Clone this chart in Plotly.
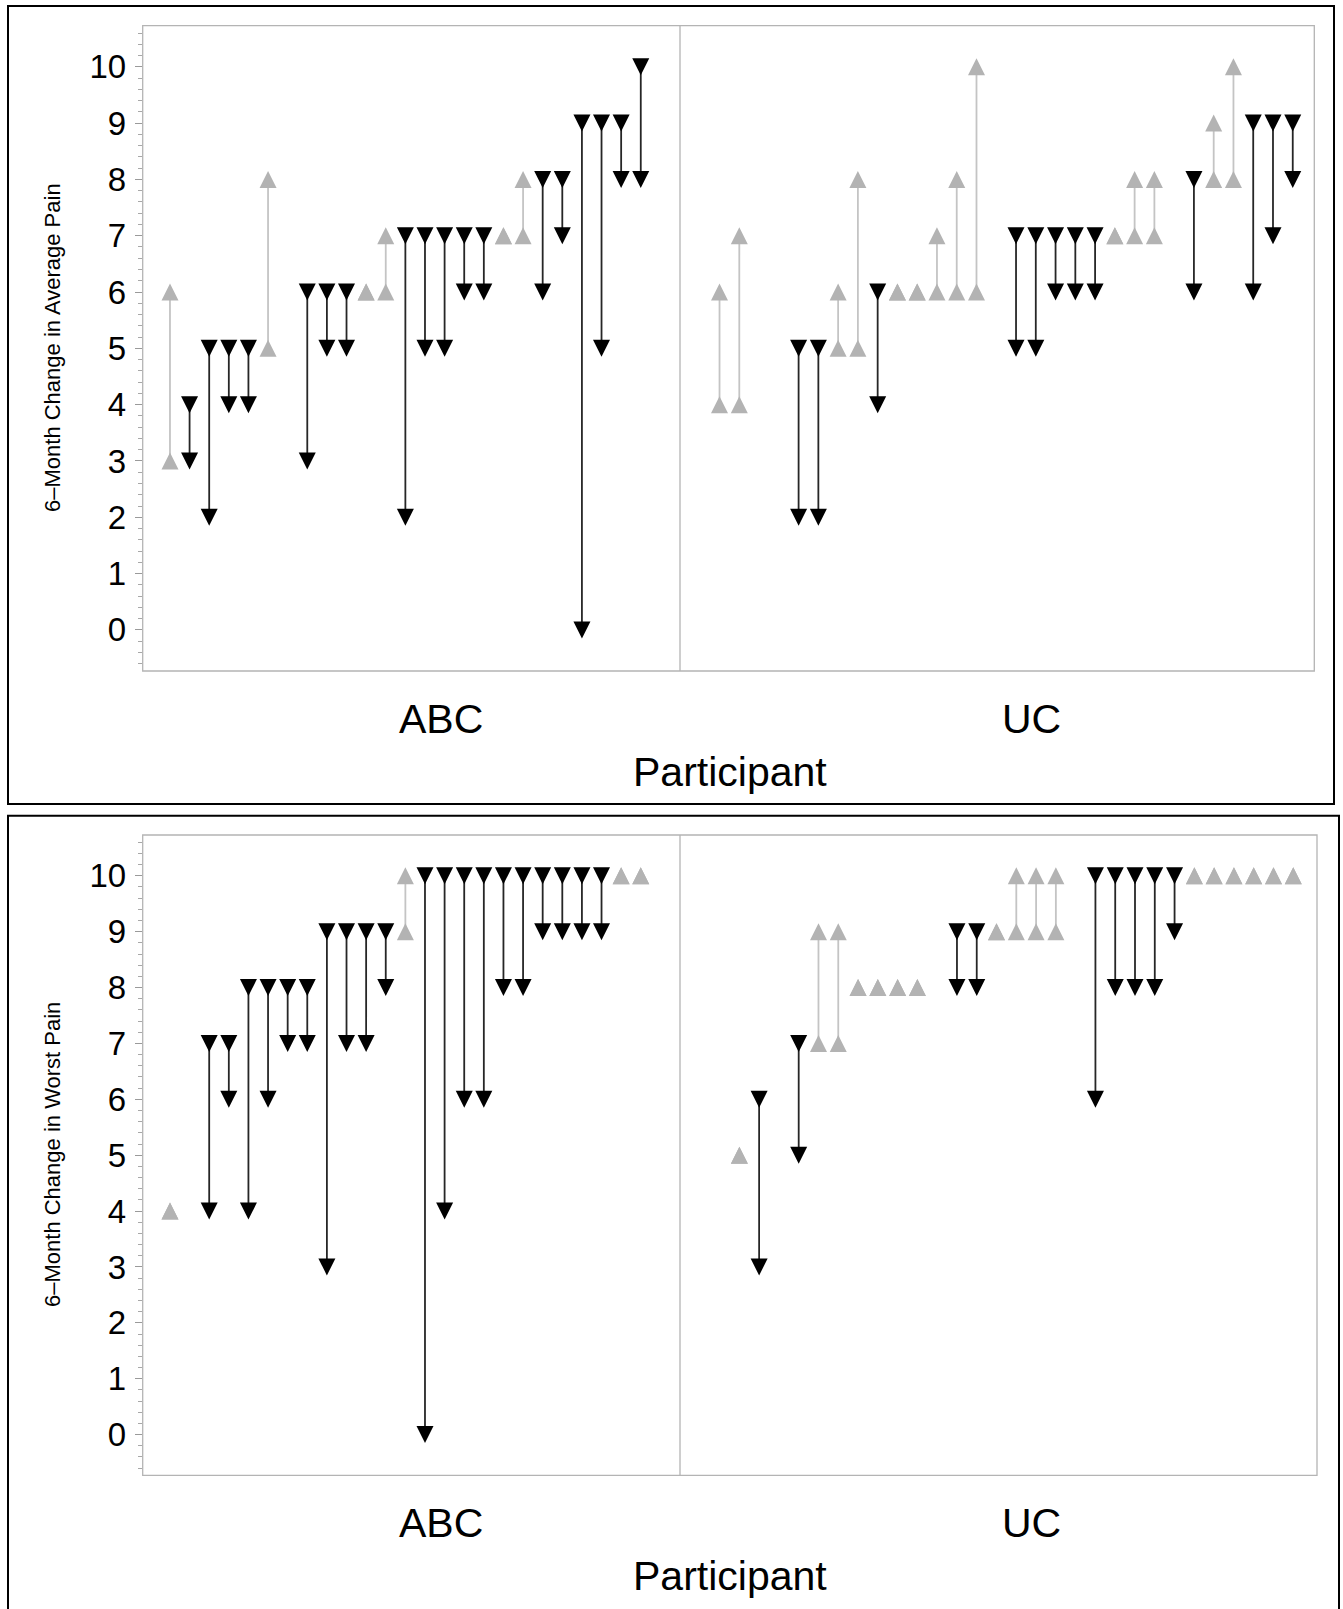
import plotly.graph_objects as go

W, H = 1343, 1609

# ---------------- data (slot order = participant order; None = no data) ----------------
group_labels = ["ABC", "UC"]
axis_label = "Participant"
y_titles = ["6–Month Change in Average Pain", "6–Month Change in Worst Pain"]
y_ticks = [0, 1, 2, 3, 4, 5, 6, 7, 8, 9, 10]

avg_abc_base = [3, 4, 5, 5, 5, 5, None, 6, 6, 6, 6, 6, 7, 7, 7, 7, 7, 7, 7, 8, 8, 9, 9, 9, 10]
avg_abc_6mo = [6, 3, 2, 4, 4, 8, None, 3, 5, 5, 6, 7, 2, 5, 5, 6, 6, 7, 8, 6, 7, 0, 5, 8, 8]

avg_uc_base = [4, 4, None, None, 5, 5, 5, 5, 6, 6, 6, 6, 6, 6, None, 7, 7, 7, 7, 7, 7, 7, 7, None, 8, 8, 8, 9, 9, 9]
avg_uc_6mo = [6, 7, None, None, 2, 2, 6, 8, 4, 6, 6, 7, 8, 10, None, 5, 5, 6, 6, 6, 7, 8, 8, None, 6, 9, 10, 6, 7, 8]

worst_abc_base = [4, None, 7, 7, 8, 8, 8, 8, 9, 9, 9, 9, 9, 10, 10, 10, 10, 10, 10, 10, 10, 10, 10, 10, 10]
worst_abc_6mo = [4, None, 4, 6, 4, 6, 7, 7, 3, 7, 7, 8, 10, 0, 4, 6, 6, 8, 8, 9, 9, 9, 9, 10, 10]

worst_uc_base = [None, 5, 6, None, 7, 7, 7, 8, 8, 8, 8, None, 9, 9, 9, 9, 9, 9, None, 10, 10, 10, 10, 10, 10, 10, 10, 10, 10, 10]
worst_uc_6mo = [None, 5, 3, None, 5, 9, 9, 8, 8, 8, 8, None, 8, 8, 9, 10, 10, 10, None, 6, 8, 8, 8, 9, 10, 10, 10, 10, 10, 10]

# ---------------- styles ----------------
FONT = "Liberation Sans, Arial, Helvetica, sans-serif"
BLACK = "#000000"
LINE_BLACK = "#262626"
GRAY = "#b3b3b3"
LINE_GRAY = "#c4c4c4"
FRAME = "#b4b4b4"
MS = 17


def pxx(x):
    return x / W


def pxy(y):
    return 1 - y / H


fig = go.Figure()


def add_group(base, follow, xa, ya):
    xs = list(range(len(base)))
    dlx, dly, ulx, uly = [], [], [], []
    dmx, dmy, umx, umy = [], [], [], []
    for x, b, f in zip(xs, base, follow):
        if b is None or f is None:
            continue
        if f < b:
            dlx += [x, x, None]
            dly += [b, f, None]
            dmx += [x, x]
            dmy += [b, f]
        else:
            if f > b:
                ulx += [x, x, None]
                uly += [b, f, None]
            umx += [x, x]
            umy += [b, f]
    common = dict(xaxis=xa, yaxis=ya, showlegend=False, hoverinfo="skip")
    fig.add_trace(go.Scatter(x=ulx, y=uly, mode="lines",
                             line=dict(color=LINE_GRAY, width=1.8), **common))
    fig.add_trace(go.Scatter(x=dlx, y=dly, mode="lines",
                             line=dict(color=LINE_BLACK, width=1.8), **common))
    fig.add_trace(go.Scatter(x=umx, y=umy, mode="markers",
                             marker=dict(symbol="arrow-down", angle=180, standoff=MS / 2,
                                         size=MS, color=GRAY, line=dict(width=0)), **common))
    fig.add_trace(go.Scatter(x=dmx, y=dmy, mode="markers",
                             marker=dict(symbol="arrow-down", angle=0, standoff=MS / 2,
                                         size=MS, color=BLACK, line=dict(width=0)), **common))


add_group(avg_abc_base, avg_abc_6mo, "x", "y")
add_group(avg_uc_base, avg_uc_6mo, "x2", "y")
add_group(worst_abc_base, worst_abc_6mo, "x3", "y2")
add_group(worst_uc_base, worst_uc_6mo, "x4", "y2")

# ---------------- layout geometry (pixels) ----------------
TOP = dict(l=142.7, mid=680.0, r=1314.3, t=25.7, b=671.0)
BOT = dict(l=142.7, mid=680.0, r=1317.0, t=835.0, b=1475.4)

xcommon = dict(showgrid=False, zeroline=False, showticklabels=False, ticks="",
               showline=False, fixedrange=True)
ycommon = dict(showgrid=False, zeroline=False, showline=False, range=[-0.73, 10.73],
               tickmode="array", tickvals=y_ticks, ticktext=[str(v) for v in y_ticks],
               ticks="outside", ticklen=7, tickwidth=1, tickcolor="#9a9a9a",
               ticklabelstandoff=2,
               tickfont=dict(family=FONT, size=33, color="#000000"),
               minor=dict(tickmode="linear", tick0=0, dtick=0.2, ticks="outside",
                          ticklen=4, tickwidth=1, tickcolor="#a8a8a8"))

fig.update_layout(
    width=W, height=H, autosize=False,
    margin=dict(l=0, r=0, t=0, b=0),
    paper_bgcolor="white", plot_bgcolor="white",
    xaxis=dict(domain=[pxx(TOP["l"]), pxx(TOP["mid"])], range=[-1.39, 26.0], anchor="y", **xcommon),
    xaxis2=dict(domain=[pxx(TOP["mid"]), pxx(TOP["r"])], range=[-2.0, 30.09], anchor="y", **xcommon),
    xaxis3=dict(domain=[pxx(BOT["l"]), pxx(BOT["mid"])], range=[-1.39, 26.0], anchor="y2", **xcommon),
    xaxis4=dict(domain=[pxx(BOT["mid"]), pxx(BOT["r"])], range=[-2.0, 30.2], anchor="y2", **xcommon),
    yaxis=dict(domain=[pxy(TOP["b"]), pxy(TOP["t"])], anchor="x", **ycommon),
    yaxis2=dict(domain=[pxy(BOT["b"]), pxy(BOT["t"])], anchor="x3", **ycommon),
)

shapes = []
for P in (TOP, BOT):
    shapes.append(dict(type="rect", xref="paper", yref="paper",
                       x0=pxx(P["l"]), x1=pxx(P["r"]), y0=pxy(P["b"]), y1=pxy(P["t"]),
                       line=dict(color=FRAME, width=1.3)))
    shapes.append(dict(type="line", xref="paper", yref="paper",
                       x0=pxx(P["mid"]), x1=pxx(P["mid"]), y0=pxy(P["b"]), y1=pxy(P["t"]),
                       line=dict(color=FRAME, width=1.3)))
# outer black boxes
shapes.append(dict(type="rect", xref="paper", yref="paper",
                   x0=pxx(8), x1=pxx(1334), y0=pxy(804), y1=pxy(6),
                   line=dict(color="#000000", width=2)))
shapes.append(dict(type="rect", xref="paper", yref="paper",
                   x0=pxx(8), x1=pxx(1339), y0=pxy(1625), y1=pxy(815.7),
                   line=dict(color="#000000", width=2)))
fig.update_layout(shapes=shapes)

ann = []
for P, title, title_y in ((TOP, y_titles[0], 348), (BOT, y_titles[1], 1155)):
    lab_y = P["b"] + 48
    ann.append(dict(text=group_labels[0], x=pxx(441), y=pxy(lab_y)))
    ann.append(dict(text=group_labels[1], x=pxx(1031), y=pxy(lab_y)))
    ann.append(dict(text=axis_label, x=pxx(730), y=pxy(P["b"] + 100.5)))
    ann.append(dict(text=title, x=pxx(52), y=pxy(title_y), textangle=-90,
                    font=dict(family=FONT, size=22, color="#000000")))
for a in ann:
    a.setdefault("font", dict(family=FONT, size=41, color="#000000"))
    a.update(xref="paper", yref="paper", showarrow=False, xanchor="center", yanchor="middle")
fig.update_layout(annotations=ann)

fig.write_html("out.html", post_script="document.body.style.margin='0';",
               config={"displayModeBar": False})
